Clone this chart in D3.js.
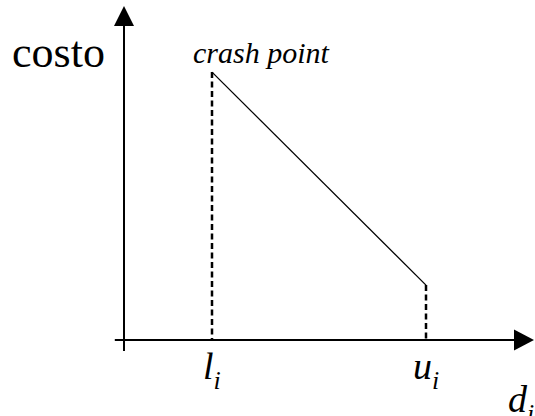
<!DOCTYPE html>
<html>
<head>
<meta charset="utf-8">
<script src="https://cdn.jsdelivr.net/npm/d3@7"></script>
<style>
  html, body { margin: 0; padding: 0; background: #fff; }
  svg { display: block; }
</style>
</head>
<body>
<div id="chart"></div>
<script>
"use strict";

// Cost curve: crash point (l_i) down to normal point (u_i)
const durations = [2.2, 7.55];       // l_i, u_i
const costs = [8.93, 1.83];          // cost at l_i, cost at u_i
const tickLabels = ["l", "u"];       // with subscript i
const yLabel = "costo";
const xLabel = "d";
const pointLabel = "crash point";

const width = 535;
const height = 416;
const serif = "Liberation Serif";

const svg = d3.select("#chart")
	.append("svg")
	.attr("width", width)
	.attr("height", height);

// scales: origin sits where the two axes cross
const x = d3.scaleLinear().domain([0, 10]).range([124, 524]);
const y = d3.scaleLinear().domain([0, 10]).range([340, 40]);

const points = durations.map((d, i) => ({ d: d, cost: costs[i], label: tickLabels[i] }));

// axes
svg.append("line")
	.attr("x1", x(0)).attr("x2", x(0))
	.attr("y1", y(-0.37)).attr("y2", 24)
	.attr("stroke", "#000").attr("stroke-width", 2);
svg.append("path")
	.attr("d", `M${x(0) - 10},26 L${x(0)},6 L${x(0) + 10},26 Z`)
	.attr("fill", "#000");

svg.append("line")
	.attr("x1", x(-0.23)).attr("x2", 516)
	.attr("y1", y(0)).attr("y2", y(0))
	.attr("stroke", "#000").attr("stroke-width", 2);
svg.append("path")
	.attr("d", `M514,${y(0) - 10.5} L534,${y(0)} L514,${y(0) + 10.5} Z`)
	.attr("fill", "#000");

// dashed drop lines
svg.selectAll("line.drop")
	.data(points)
	.enter()
	.append("line")
	.attr("class", "drop")
	.attr("x1", d => x(d.d)).attr("x2", d => x(d.d))
	.attr("y1", d => y(d.cost)).attr("y2", y(0))
	.attr("stroke", "#000")
	.attr("stroke-width", 2.5)
	.attr("stroke-dasharray", "6,3.5");

// cost line
svg.append("path")
	.datum(points)
	.attr("d", d3.line().x(d => x(d.d)).y(d => y(d.cost)))
	.attr("fill", "none")
	.attr("stroke", "#000")
	.attr("stroke-width", 1.3);

// tick labels l_i and u_i
const tick = svg.selectAll("text.tick")
	.data(points)
	.enter()
	.append("text")
	.attr("class", "tick")
	.attr("x", d => x(d.d) + (d.label === "l" ? -9 : -13))
	.attr("y", 379)
	.attr("font-family", serif)
	.attr("font-style", "italic")
	.attr("font-size", 38);
tick.append("tspan").text(d => d.label);
tick.append("tspan")
	.attr("dy", 10)
	.attr("font-size", 26)
	.text("i");

// axis labels
svg.append("text")
	.attr("x", 12)
	.attr("y", 67)
	.attr("font-family", serif)
	.attr("font-size", 44)
	.text(yLabel);

const xl = svg.append("text")
	.attr("x", 508)
	.attr("y", 412)
	.attr("font-family", serif)
	.attr("font-style", "italic")
	.attr("font-size", 38);
xl.append("tspan").text(xLabel);
xl.append("tspan").attr("dy", 10).attr("font-size", 26).text("i");

// crash point label
svg.append("text")
	.attr("x", 193)
	.attr("y", 63)
	.attr("font-family", serif)
	.attr("font-style", "italic")
	.attr("font-size", 30)
	.text(pointLabel);
</script>
</body>
</html>
